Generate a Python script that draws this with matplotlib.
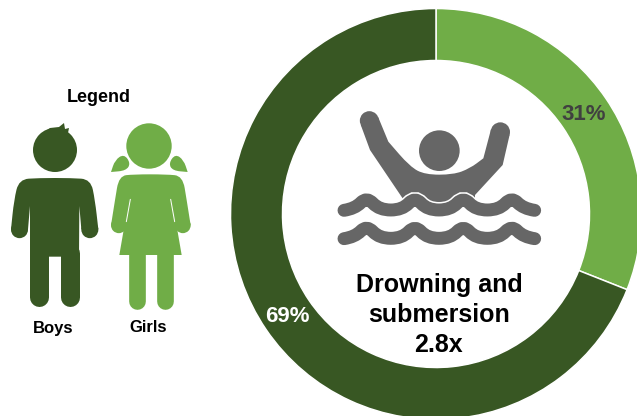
import matplotlib
matplotlib.use("Agg")
import numpy as np
import matplotlib.pyplot as plt
from matplotlib.path import Path
from matplotlib.patches import PathPatch, Circle

plt.rcParams['font.family'] = ['Liberation Sans', 'DejaVu Sans']

labels = ['Girls', 'Boys']
shares = [31, 69]
colors = ['#70AD47', '#385723']
GREY = '#666666'


def to_px(points, dx, dy, scale=3.0):
    # icons were traced in the 3x zoom coords, y going down
    pts = np.array(points, dtype=float) / scale + [dx, dy]
    pts[:, 1] = 416 - pts[:, 1]
    return pts


def smooth(points, dx, dy):
    # quadratic spline through midpoints, repeat a point to get a sharp corner
    pts = to_px(points, dx, dy)
    n = len(pts)
    verts = [(pts[-1] + pts[0]) / 2]
    codes = [Path.MOVETO]
    for i in range(n):
        verts += [pts[i], (pts[i] + pts[(i + 1) % n]) / 2]
        codes += [Path.CURVE3, Path.CURVE3]
    return Path(verts, codes)


def open_curve(points, dx, dy):
    pts = to_px(points, dx, dy)
    verts = [pts[0]]
    codes = [Path.MOVETO]
    for i in range(1, len(pts) - 1):
        end = pts[i + 1] if i == len(pts) - 2 else (pts[i] + pts[i + 1]) / 2
        verts += [pts[i], end]
        codes += [Path.CURVE3, Path.CURVE3]
    return Path(verts, codes)


def fill(ax, path, color, z=3):
    ax.add_patch(PathPatch(path, facecolor=color, edgecolor='none', zorder=z))


def limb(ax, points, dx, dy, width, color, z=3):
    # width is in zoom pixels, so /3 for image px, *0.72 for points
    pts = to_px(points, dx, dy)
    ax.plot(pts[:, 0], pts[:, 1], color=color, lw=width / 3 * 0.72,
            solid_capstyle='round', solid_joinstyle='round', zorder=z)


def dot(ax, x, y, r, dx, dy, color):
    c = to_px([(x, y)], dx, dy)[0]
    ax.add_patch(Circle(c, r / 3, facecolor=color, edgecolor='none', zorder=3))


fig = plt.figure(figsize=(6.37, 4.16), dpi=100)
ax = fig.add_axes([0, 0, 1, 1])

# donut
wedges, _ = ax.pie(shares, colors=colors, startangle=90, counterclock=False,
                   center=(436, 416 - 214), radius=205.5, frame=True,
                   wedgeprops=dict(width=52, edgecolor='white', linewidth=1.1))
ax.set_xlim(0, 637)
ax.set_ylim(0, 416)
ax.set_aspect('equal')
ax.axis('off')

ax.text(584, 416 - 114, '31%', color='#404040', fontsize=16, fontweight='bold', ha='center', va='center')
ax.text(287, 416 - 316, '69%', color='white', fontsize=16, fontweight='bold', ha='center', va='center')
ax.text(439, 416 - 285, 'Drowning and', color='black', fontsize=18, fontweight='bold', ha='center', va='center')
ax.text(439, 416 - 315, 'submersion', color='black', fontsize=18, fontweight='bold', ha='center', va='center')
ax.text(438, 416 - 345, '2.8x', color='black', fontsize=18, fontweight='bold', ha='center', va='center')

ax.text(99, 416 - 98, 'Legend', color='black', fontsize=13, fontweight='bold', ha='center', va='center')
ax.text(53.5, 416 - 328, labels[1], color='black', fontsize=12, fontweight='bold', ha='center', va='center')
ax.text(148.5, 416 - 328, labels[0], color='black', fontsize=12, fontweight='bold', ha='center', va='center')

# boy icon
ox, oy = 0, 80
ax.add_patch(Circle((55, 416 - 150), 22, facecolor=colors[1], edgecolor='none', zorder=3))
fill(ax, Path([(39, 416 - 136), (50, 416 - 128), (59, 416 - 127), (64, 416 - 123), (65, 416 - 129),
               (69, 416 - 128), (68, 416 - 133), (76, 416 - 145), (39, 416 - 136)]), colors[1])
boy = [(115, 294), (215, 294), (272, 298), (285, 360), (295, 448), (295, 448), (244, 448), (244, 448),
       (238, 378), (238, 378), (237, 530), (237, 530), (90, 530), (90, 530), (90, 378), (90, 378),
       (84, 448), (84, 448), (33, 448), (33, 448), (42, 360), (57, 298)]
fill(ax, smooth(boy, ox, oy), colors[1])
limb(ax, [(118, 520), (118, 650)], ox, oy, 57, colors[1])
limb(ax, [(209, 520), (209, 650)], ox, oy, 57, colors[1])
dot(ax, 58.5, 449, 25.5, ox, oy, colors[1])
dot(ax, 269.5, 449, 25.5, ox, oy, colors[1])

# girl icon
ax.add_patch(Circle((149, 416 - 146), 22.7, facecolor=colors[0], edgecolor='none', zorder=3))
for tail in ([(333, 276), (333, 276), (345, 240), (372, 222), (392, 250), (378, 272), (333, 276)],
             [(563, 276), (563, 276), (551, 240), (526, 222), (506, 250), (518, 272), (563, 276)]):
    fill(ax, smooth(tail, ox, oy), colors[0])
girl_top = [(400, 283), (500, 283), (548, 288), (560, 360), (572, 436), (572, 436), (524, 436), (524, 436),
            (513, 358), (513, 358), (390, 358), (390, 358), (380, 436), (380, 436), (333, 436), (333, 436),
            (345, 360), (357, 288)]
dress = [(390, 340), (390, 340), (513, 340), (513, 340), (545, 525), (545, 525), (358, 525), (358, 525)]
fill(ax, smooth(girl_top, ox, oy), colors[0])
fill(ax, smooth(dress, ox, oy), colors[0])
limb(ax, [(412, 515), (412, 662)], ox, oy, 50, colors[0])
limb(ax, [(495, 515), (495, 662)], ox, oy, 50, colors[0])
dot(ax, 356.5, 436, 23.5, ox, oy, colors[0])
dot(ax, 548.5, 436, 23.5, ox, oy, colors[0])
limb(ax, [(391, 358), (379, 425)], ox, oy, 3, 'white', z=4)
limb(ax, [(512, 358), (524, 425)], ox, oy, 3, 'white', z=4)

# swimmer icon
sx, sy = 320, 100
dot(ax, 358, 152, 61, sx, sy, GREY)
dot(ax, 148, 62, 28.5, sx, sy, GREY)
dot(ax, 541, 96, 29, sx, sy, GREY)
body = [(122, 74), (122, 74), (174, 50), (174, 50), (205, 125), (205, 125), (270, 200), (315, 224), (400, 224),
        (450, 205), (490, 175), (490, 175), (513, 88), (513, 88), (569, 104), (569, 104), (548, 195), (548, 195),
        (465, 285), (465, 285), (465, 310), (465, 310), (258, 310), (258, 310), (150, 150), (150, 150)]
fill(ax, smooth(body, sx, sy), GREY)

wave = [(72, 331), (105, 326), (140, 290), (178, 330), (247, 330), (285, 290), (322, 330), (392, 330), (430, 290),
        (467, 330), (537, 330), (575, 290), (610, 326), (644, 331)]
wave2 = [(x, y + 85) for x, y in wave]
ax.add_patch(PathPatch(open_curve(wave, sx, sy), facecolor='none', edgecolor='white', lw=11.5,
                       capstyle='round', zorder=5))
for w in (wave, wave2):
    ax.add_patch(PathPatch(open_curve(w, sx, sy), facecolor='none', edgecolor=GREY, lw=9.3,
                           capstyle='round', joinstyle='round', zorder=6))

fig.savefig('out.png', dpi=100)
